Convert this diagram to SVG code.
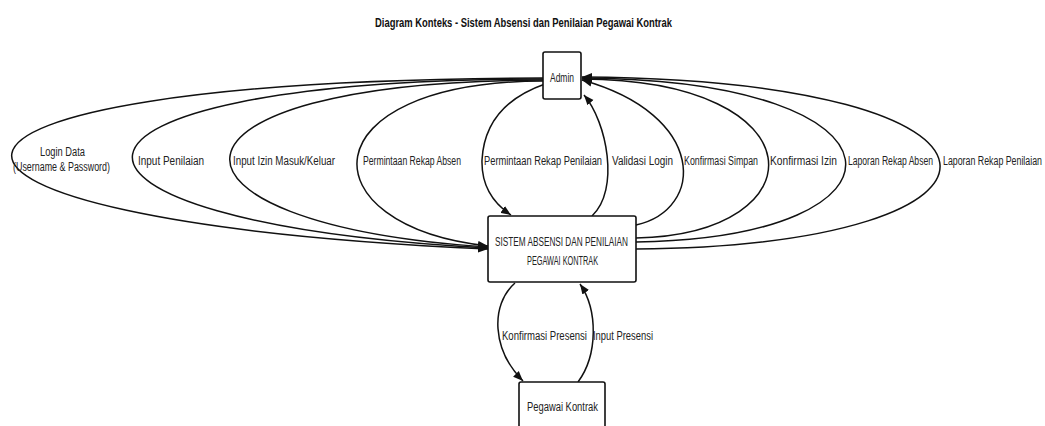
<svg xmlns="http://www.w3.org/2000/svg" width="1045" height="426" viewBox="0 0 1045 426">
<style>
.box{fill:#fff;stroke:#111;stroke-width:1.6}
.flow{fill:none;stroke:#111;stroke-width:1.5;marker-end:url(#arr)}
.lbl{font-family:"Liberation Sans",Arial,sans-serif;font-size:13.5px;fill:#222}
.ttl{font-family:"Liberation Sans",Arial,sans-serif;font-size:13.5px;font-weight:bold;fill:#111}
</style>
<defs>
<marker id="arr" markerUnits="userSpaceOnUse" markerWidth="11" markerHeight="9" refX="10" refY="4.5" orient="auto">
<path d="M0,0.5 L10,4.5 L0,8.5 Z" fill="#111"/>
</marker>
</defs>
<rect width="1045" height="426" fill="#fff"/>
<text class="ttl" transform="translate(375,27) scale(0.675,1)" textLength="440" lengthAdjust="spacingAndGlyphs">Diagram Konteks - Sistem Absensi dan Penilaian Pegawai Kontrak</text>

<g id="connectors">
<path class="flow" d="M543,78 C-156,80 -156,220 488,249"/>
<path class="flow" d="M543,79 C5,80 5,222 488,248"/>
<path class="flow" d="M543,80 C135,81 135,224 488,247"/>
<path class="flow" d="M543,81 C305,82 305,226 488,246"/>
<path class="flow" d="M545,84 Q485,105 482,160 Q481,195 511,215"/>
<path class="flow" d="M592,216 C620,190 607,122 584,95"/>
<path class="flow" d="M636,225 C705,210 708,115 582,80"/>
<path class="flow" d="M636,238 C821,234 821,80 582,79"/>
<path class="flow" d="M636,242 C924,238 924,80 582,78"/>
<path class="flow" d="M636,249 C1050,245 1050,80 582,77"/>
<path class="flow" d="M515,283 C490,305 492,350 523,381"/>
<path class="flow" d="M578,382 C598,355 598,310 580,284"/>
<g id="labels">
<text class="lbl" transform="translate(40,156) scale(0.69,1)" textLength="65.2" lengthAdjust="spacingAndGlyphs">Login Data</text>
<text class="lbl" transform="translate(13,171) scale(0.66,1)" textLength="147" lengthAdjust="spacingAndGlyphs">(Username &amp; Password)</text>
<text class="lbl" transform="translate(138,165) scale(0.74,1)" textLength="89.2" lengthAdjust="spacingAndGlyphs">Input Penilaian</text>
<text class="lbl" transform="translate(233,165) scale(0.72,1)" textLength="141.7" lengthAdjust="spacingAndGlyphs">Input Izin Masuk/Keluar</text>
<text class="lbl" transform="translate(363,165) scale(0.64,1)" textLength="153.1" lengthAdjust="spacingAndGlyphs">Permintaan Rekap Absen</text>
<text class="lbl" transform="translate(484,165) scale(0.69,1)" textLength="171" lengthAdjust="spacingAndGlyphs">Permintaan Rekap Penilaian</text>
<text class="lbl" transform="translate(612,165) scale(0.73,1)" textLength="83.6" lengthAdjust="spacingAndGlyphs">Validasi Login</text>
<text class="lbl" transform="translate(684,165) scale(0.65,1)" textLength="113.8" lengthAdjust="spacingAndGlyphs">Konfirmasi Simpan</text>
<text class="lbl" transform="translate(770,165) scale(0.76,1)" textLength="88.2" lengthAdjust="spacingAndGlyphs">Konfirmasi Izin</text>
<text class="lbl" transform="translate(848,165) scale(0.63,1)" textLength="134.9" lengthAdjust="spacingAndGlyphs">Laporan Rekap Absen</text>
<text class="lbl" transform="translate(943,165) scale(0.66,1)" textLength="150" lengthAdjust="spacingAndGlyphs">Laporan Rekap Penilaian</text>
<text class="lbl" transform="translate(502,340) scale(0.71,1)" textLength="119.7" lengthAdjust="spacingAndGlyphs">Konfirmasi Presensi</text>
<text class="lbl" transform="translate(593,340) scale(0.70,1)" textLength="85.7" lengthAdjust="spacingAndGlyphs">Input Presensi</text>
</g>
</g>

<g id="admin">
<rect class="box" x="543" y="52" width="38" height="47" rx="2"/>
<text class="lbl" transform="translate(550,82) scale(0.63,1)" textLength="38.1" lengthAdjust="spacingAndGlyphs">Admin</text>
</g>
<g id="sistem">
<rect class="box" x="488" y="216" width="148" height="66" rx="2"/>
<text class="lbl" transform="translate(495,246) scale(0.61,1)" textLength="218" lengthAdjust="spacingAndGlyphs">SISTEM ABSENSI DAN PENILAIAN</text>
<text class="lbl" transform="translate(527,265) scale(0.54,1)" textLength="131.5" lengthAdjust="spacingAndGlyphs">PEGAWAI KONTRAK</text>
</g>
<g id="pegawai">
<rect class="box" x="519" y="382" width="86" height="52" rx="2"/>
<text class="lbl" transform="translate(527,411) scale(0.70,1)" textLength="101.4" lengthAdjust="spacingAndGlyphs">Pegawai Kontrak</text>
</g>
</svg>
